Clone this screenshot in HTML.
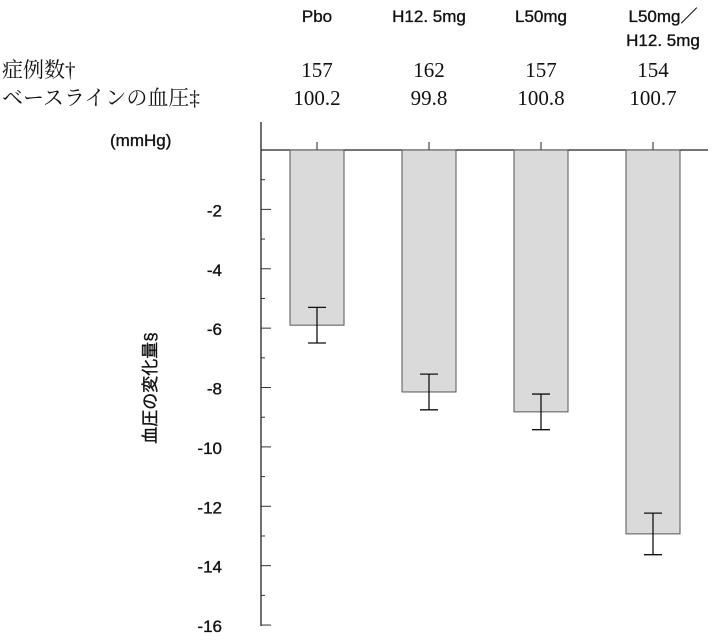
<!DOCTYPE html>
<html><head><meta charset="utf-8"><style>
body{margin:0;background:#fff;width:716px;height:641px;overflow:hidden}
svg{display:block}
.s{font-family:"Liberation Sans","Noto Sans CJK JP",sans-serif;font-size:17px;fill:#111}
.b{stroke:#111;stroke-width:0.35}
.r{font-family:"Liberation Serif","Noto Serif CJK SC",serif;font-size:21px;fill:#111}
</style></head><body>
<svg id="c" width="716" height="641"></svg>
<script>
const categories=["Pbo","H12.5mg","L50mg","L50mg／H12.5mg"];
const catLines=[["Pbo"],["H12. 5mg"],["L50mg"],["L50mg／","H12. 5mg"]];
const nCases=["157","162","157","154"];
const baseline=["100.2","99.8","100.8","100.7"];
const values=[-5.9,-8.15,-8.82,-12.93];
const errors=[0.6,0.6,0.6,0.7];
const yTicks=[-2,-4,-6,-8,-10,-12,-14,-16];
const NS="http://www.w3.org/2000/svg";
const svg=document.getElementById('c');
function yy(v){return 150+(-v)*29.69;}
function xc(i){return 317+i*112;}
function mk(t,a,txt){const e=document.createElementNS(NS,t);for(const k in a)e.setAttribute(k,a[k]);if(txt!=null)e.textContent=txt;svg.appendChild(e);return e;}
let e;
e=mk('line',{x1:261,y1:122,x2:261,y2:626,stroke:'#222','stroke-width':1.3});


e=mk('line',{x1:261,y1:150,x2:708,y2:150,stroke:'#222','stroke-width':1.3});


for(let v=-1;v>=-16;v--){
 const major=v%2===0;
 e=mk('line',{x1:261,y1:yy(v),x2:major?271:265,y2:yy(v),stroke:'#333','stroke-width':1});
 
 
}
yTicks.forEach(v=>{
 e=mk('text',{x:222,y:yy(v)+7,'text-anchor':'end',class:'s b','font-size':'20'},String(v));
 
 
});
e=mk('text',{x:110,y:146,class:'s b'},"(mmHg)");


e=mk('text',{x:0,y:0,class:'s b','font-size':'21','text-anchor':'middle',transform:'translate(156,388) rotate(-90)'},"血圧の変化量§");


e=mk('text',{x:2,y:77,class:'r','font-size':'22'},"症例数†");


e=mk('text',{x:2,y:105,class:'r','font-size':'22'},"ベースラインの血圧‡");


categories.forEach((c,i)=>{
 const x=xc(i);
 catLines[i].forEach((l,j)=>{
  e=mk('text',{x:x+(i===3?10:0),y:22+j*24,'text-anchor':'middle',class:'s b'},l);
  
  
 });
 e=mk('text',{x:x,y:77,'text-anchor':'middle',class:'r'},nCases[i]);
 
 
 e=mk('text',{x:x,y:105,'text-anchor':'middle',class:'r'},baseline[i]);
 
 
 e=mk('line',{x1:x,y1:142,x2:x,y2:150,stroke:'#222','stroke-width':1});
 
 
 e=mk('rect',{x:x-27,y:150,width:54,height:yy(values[i])-150,fill:'#dadada',stroke:'#555','stroke-width':1});
 
 
 const t=yy(values[i]+errors[i]),b=yy(values[i]-errors[i]);
 e=mk('path',{d:`M${x},${t}V${b}M${x-9},${t}H${x+9}M${x-9},${b}H${x+9}`,stroke:'#111','stroke-width':1.3,fill:'none'});
 
 
});
</script>
</body></html>
